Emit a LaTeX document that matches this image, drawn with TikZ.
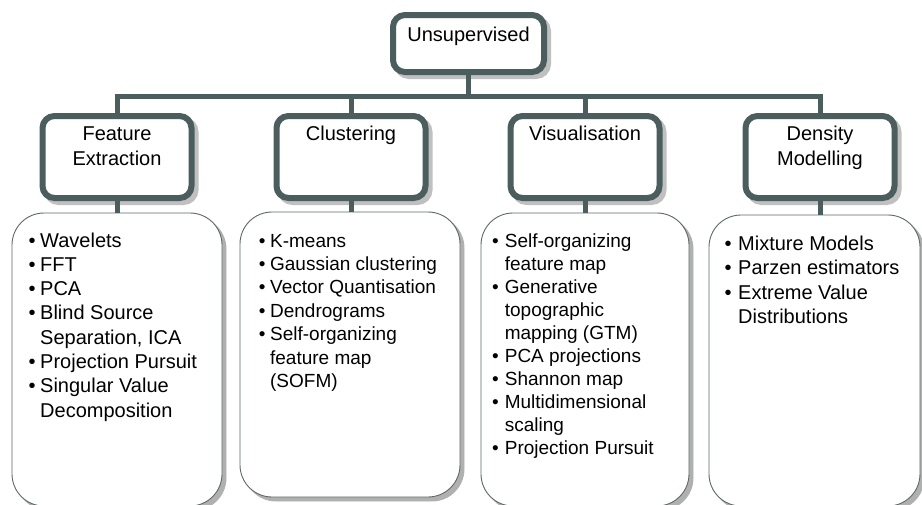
\documentclass[tikz,border=0pt]{standalone}
\usepackage{fontspec}
\setmainfont{Liberation Sans}

\definecolor{slate}{RGB}{76,93,93}
\definecolor{shadegray}{RGB}{192,192,192}
\definecolor{listline}{RGB}{95,104,104}
\definecolor{listshade}{RGB}{176,176,176}

\tikzset{
  headbox/.style={draw=slate, line width=6pt, rounded corners=12pt, fill=white, inner sep=0pt},
  headshade/.style={draw=shadegray, fill=shadegray, line width=6pt, rounded corners=12pt, inner sep=0pt},
  listbox/.style={draw=listline, line width=0.9pt, rounded corners=32pt, fill=white, inner sep=0pt},
  listshade/.style={draw=listshade, fill=listshade, line width=0.9pt, rounded corners=32pt, inner sep=0pt},
  headtext/.style={inner sep=0pt, anchor=base, font=\fontsize{20}{25}\selectfont},
  listtext/.style={inner sep=0pt, anchor=base west},
  conn/.style={draw=slate, line width=5pt, line join=miter},
}

\begin{document}
\begin{tikzpicture}[x=1pt, y=-1pt]
  \useasboundingbox (0,0) rectangle (922,504);
  \clip (0,0) rectangle (922,504);

  % root
  \node[headshade, minimum width=151pt, minimum height=57pt] (rootsh) at (472.5,47.5) {};
  \node[headbox, minimum width=151pt, minimum height=57pt] (root) at (468.5,43.5) {};
  \node[headtext] (roottxt) at (468.5,41.5) {Unsupervised};

  % category boxes
  \foreach \nm/\cx in {fe/117, cl/351, vi/585, de/820}{
    \node[headshade, minimum width=149pt, minimum height=82pt] (\nm sh) at (\cx+4,161) {};
    \node[headbox, minimum width=149pt, minimum height=82pt] (\nm) at (\cx,157) {};
  }

  \node[headtext] (fetxt) at (117,140.5) {\begin{tabular}[t]{@{}c@{}}Feature\\Extraction\end{tabular}};
  \node[headtext] (cltxt) at (351,140.5) {Clustering};
  \node[headtext] (vitxt) at (585,140.5) {Visualisation};
  \node[headtext] (detxt) at (820,140.5) {\begin{tabular}[t]{@{}c@{}}Density\\Modelling\end{tabular}};

  % list boxes with their shadows
  \node[listshade, minimum width=210pt, minimum height=293pt] (felsh) at (121,363.5) {};
  \node[listbox, minimum width=210pt, minimum height=293pt] (fel) at (117,359.5) {};
  \node[listshade, minimum width=220pt, minimum height=285pt] (cllsh) at (354,358.5) {};
  \node[listbox, minimum width=220pt, minimum height=285pt] (cll) at (350,354.5) {};
  \node[listshade, minimum width=208pt, minimum height=293pt] (vilsh) at (589,363.5) {};
  \node[listbox, minimum width=208pt, minimum height=293pt] (vil) at (585,359.5) {};
  \node[listshade, minimum width=211pt, minimum height=291pt] (delsh) at (818.5,364.5) {};
  \node[listbox, minimum width=211pt, minimum height=291pt] (del) at (814.5,360.5) {};

  \node[listtext, font=\fontsize{20}{24.3}\selectfont] (feitems) at (28.5,247)
    {\begin{tabular}[t]{@{}l@{\hspace{4.5pt}}l@{}}
      • & Wavelets\\
      • & FFT\\
      • & PCA\\
      • & Blind Source\\
        & Separation, ICA\\
      • & Projection Pursuit\\
      • & Singular Value\\
        & Decomposition
    \end{tabular}};

  \node[listtext, font=\fontsize{19}{23.4}\selectfont] (clitems) at (258.7,247)
    {\begin{tabular}[t]{@{}l@{\hspace{4.6pt}}l@{}}
      • & K-means\\
      • & Gaussian clustering\\
      • & Vector Quantisation\\
      • & Dendrograms\\
      • & Self-organizing\\
        & feature map\\
        & (SOFM)
    \end{tabular}};

  \node[listtext, font=\fontsize{19}{23.1}\selectfont] (viitems) at (492,247)
    {\begin{tabular}[t]{@{}l@{\hspace{6pt}}l@{}}
      • & Self-organizing\\
        & feature map\\
      • & Generative\\
        & topographic\\
        & mapping (GTM)\\
      • & PCA projections\\
      • & Shannon map\\
      • & Multidimensional\\
        & scaling\\
      • & Projection Pursuit
    \end{tabular}};

  \node[listtext, font=\fontsize{20}{24.5}\selectfont] (deitems) at (724.5,250)
    {\begin{tabular}[t]{@{}l@{\hspace{6.5pt}}l@{}}
      • & Mixture Models\\
      • & Parzen estimators\\
      • & Extreme Value\\
        & Distributions
    \end{tabular}};

  % connectors
  \coordinate (bar) at (468.5,96);
  \draw[conn] (root.south) -- (root.south |- bar);
  \draw[conn] (fe.north) -- (fe.north |- bar) -- (de.north |- bar) -- (de.north);
  \draw[conn] (cl.north) -- (cl.north |- bar);
  \draw[conn] (vi.north) -- (vi.north |- bar);
  \draw[conn] (fe.south) -- (fel.north);
  \draw[conn] (cl.south) -- (cl.south |- cll.north);
  \draw[conn] (vi.south) -- (vil.north);
  \draw[conn] (de.south) -- (de.south |- del.north);
\end{tikzpicture}
\end{document}
